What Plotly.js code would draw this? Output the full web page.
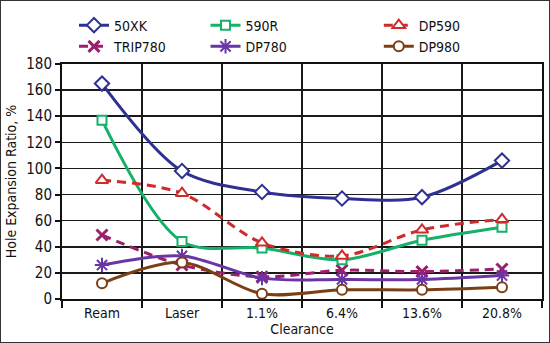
<!DOCTYPE html>
<html><head><meta charset="utf-8">
<script src="https://cdn.plot.ly/plotly-3.0.1.min.js"></script>
<style>
html,body{margin:0;padding:0;background:#fff;}
#wrap{width:550px;height:343px;box-sizing:border-box;border:1px solid #333;overflow:hidden;}
#chart{width:548px;height:341px;}
</style></head>
<body><div id="wrap"><div id="chart"></div></div>
<script>
const categories = ["Ream","Laser","1.1%","6.4%","13.6%","20.8%"];
const s50XK    = [165, 98, 82, 77, 78, 106];
const s590R    = [137, 44, 39, 30, 45, 55];
const sDP590   = [91, 81, 43, 33, 53, 61];
const sTRIP780 = [49, 26, 17, 22, 21, 23];
const sDP780   = [26, 33, 16, 15, 15, 18];
const sDP980   = [12, 28, 4, 7, 7, 9];
const yTicks = [0,20,40,60,80,100,120,140,160,180];

const FONT = "'DejaVu Sans Condensed','Liberation Sans Narrow','Arial Narrow','Liberation Sans',Arial,sans-serif";

function tr(name, y, color, symbol, dash, legend, msize, fill){
  return {
    x: categories, y: y, name: name, type:'scatter', mode:'lines+markers',
    legend: legend,
    line:{color:color, width:3, shape:'spline', smoothing:0.9, dash:dash},
    marker:{symbol:symbol, size:msize, color: fill, line:{color:color, width:2}}
  };
}
const data = [
  tr('50XK', s50XK, '#2e3192', 'diamond', 'solid', 'legend', 11, '#fff'),
  tr('TRIP780', sTRIP780, '#9b1f6a', 'x-thin', '9px,6px', 'legend', 11, '#9b1f6a'),
  tr('590R', s590R, '#17b069', 'square', 'solid', 'legend2', 9, '#fff'),
  tr('DP780', sDP780, '#6a35a5', 'asterisk', 'solid', 'legend2', 12, '#6a35a5'),
  tr('DP590', sDP590, '#d02a2a', 'triangle-up', '9px,6px', 'legend3', 11, '#fff'),
  tr('DP980', sDP980, '#7b3f16', 'circle', 'solid', 'legend3', 10, '#fff')
];
data[1].marker.line.width = 3;
data[3].marker.line.width = 2;

function leg(x){
  return {x:x, y:0.975, xref:'paper', yref:'container', xanchor:'left', yanchor:'top',
    orientation:'v', font:{family:FONT, size:14, color:'#111'}, bgcolor:'rgba(0,0,0,0)',
    tracegroupgap:0, itemwidth:30, traceorder:'normal'};
}
const l1 = leg(0.025);
const l2 = leg(0.299);
const l3 = leg(0.66);

const layout = {
  width:548, height:341,
  margin:{l:61, r:7, t:63, b:43},
  paper_bgcolor:'#fff', plot_bgcolor:'#fff',
  font:{family:FONT, size:14, color:'#111'},
  legend:l1, legend2:l2, legend3:l3,
  xaxis:{
    type:'category', range:[-0.5,5.5], tickson:'boundaries',
    showgrid:true, gridcolor:'#1a1a1a', gridwidth:1.5,
    showline:true, linecolor:'#111', linewidth:2, mirror:true,
    ticks:'outside', ticklen:7, tickcolor:'#111', tickwidth:2,
    tickfont:{family:FONT, size:14, color:'#111'},
    title:{text:'Clearance', font:{family:FONT, size:14, color:'#111'}, standoff:2},
    zeroline:false, fixedrange:true
  },
  yaxis:{
    range:[0,180], tickvals:yTicks, ticktext:yTicks.map(String),
    showgrid:true, gridcolor:'#1a1a1a', gridwidth:1.5,
    showline:true, linecolor:'#111', linewidth:2, mirror:true,
    ticks:'outside', ticklen:5, tickcolor:'#111', tickwidth:2,
    tickfont:{family:FONT, size:15, color:'#111'},
    title:{text:'Hole Expansion Ratio, %', font:{family:FONT, size:14, color:'#111'}, standoff:6},
    zeroline:false, fixedrange:true
  },
  showlegend:true
};
Plotly.newPlot('chart', data, layout, {displayModeBar:false, staticPlot:true});
</script></body></html>
